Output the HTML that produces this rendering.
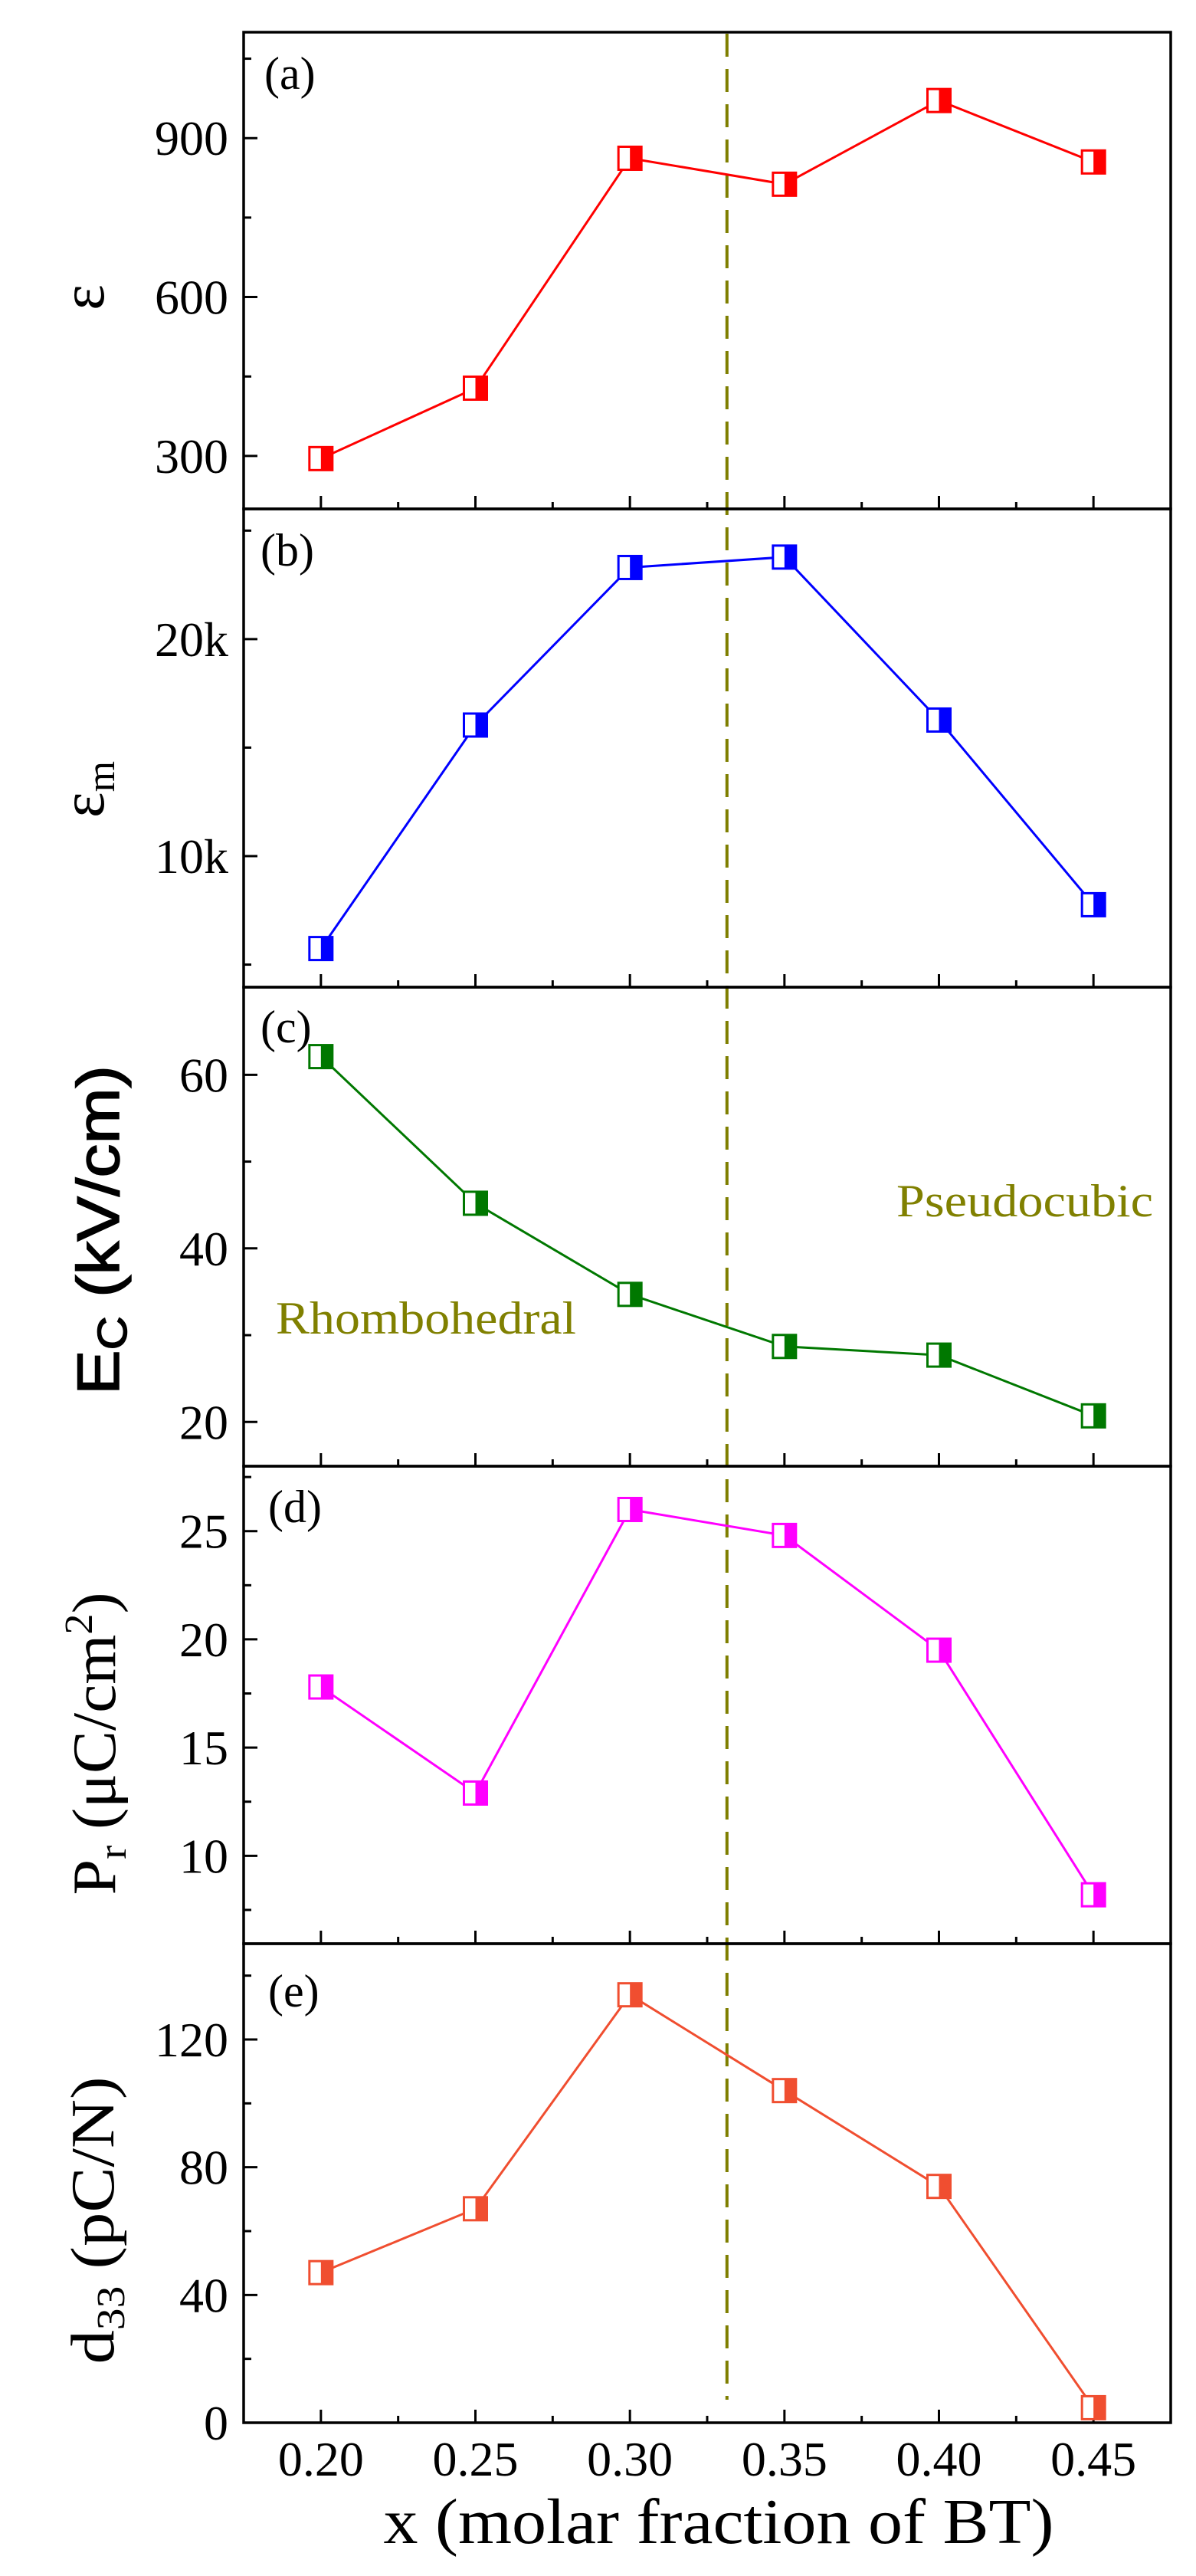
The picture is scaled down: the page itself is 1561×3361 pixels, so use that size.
<!DOCTYPE html>
<html><head><meta charset="utf-8">
<style>
html,body{margin:0;padding:0;background:#fff;}
svg{display:block;}
text{font-family:"Liberation Serif","DejaVu Serif",serif;}
</style></head>
<body>
<svg id="chart" width="1561" height="3361" viewBox="0 0 1561 3361" xmlns="http://www.w3.org/2000/svg"></svg>
<script>
const xCats = [0.20, 0.25, 0.30, 0.35, 0.40, 0.45];
const xTickLabels = ["0.20","0.25","0.30","0.35","0.40","0.45"];
const epsValues = [295, 428, 862, 813, 971, 855];
const epsmValues = [5740, 16040, 23300, 23780, 16270, 7760];
const ecValues = [62.1, 45.2, 34.7, 28.7, 27.7, 20.7];
const prValues = [17.8, 12.9, 26.0, 24.8, 19.5, 8.2];
const d33Values = [47, 67, 134, 104, 74, 4.7];
const epsTicks = [300, 600, 900];
const epsTickLabels = ["300","600","900"];
const epsmTicks = [10000, 20000];
const epsmTickLabels = ["10k","20k"];
const ecTicks = [20, 40, 60];
const ecTickLabels = ["20","40","60"];
const prTicks = [10, 15, 20, 25];
const prTickLabels = ["10","15","20","25"];
const d33Ticks = [0, 40, 80, 120];
const d33TickLabels = ["0","40","80","120"];
const boundaryX = 0.3314;

const NS = "http://www.w3.org/2000/svg";
const svg = document.getElementById("chart");
const L = 318, R = 1528;
const XMIN = 0.175, XMAX = 0.475;
function xs(v){ return L + (v - XMIN) / (XMAX - XMIN) * (R - L); }
function mk(tag, attrs, parent){
  const e = document.createElementNS(NS, tag);
  for (const k in attrs) e.setAttribute(k, attrs[k]);
  (parent || svg).appendChild(e);
  return e;
}

const panels = [
  {key:"eps", top:42, bot:664, min:200, max:1100, vals:epsValues, ticks:epsTicks, labels:epsTickLabels, minor:[450,750,1050], color:"#ff0000", letter:"(a)", ly:116, lx:345},
  {key:"epsm", top:664, bot:1288, min:3960, max:26000, vals:epsmValues, ticks:epsmTicks, labels:epsmTickLabels, minor:[5000,15000,25000], color:"#0000ff", letter:"(b)", ly:738, lx:340},
  {key:"ec", top:1288, bot:1913, min:14.9, max:70.1, vals:ecValues, ticks:ecTicks, labels:ecTickLabels, minor:[30,50], color:"#007800", letter:"(c)", ly:1360, lx:340},
  {key:"pr", top:1913, bot:2536, min:5.94, max:28.0, vals:prValues, ticks:prTicks, labels:prTickLabels, minor:[7.5,12.5,17.5,22.5,27.5], color:"#ff00ff", letter:"(d)", ly:1986, lx:350},
  {key:"d33", top:2536, bot:3161, min:0, max:150, vals:d33Values, ticks:d33Ticks, labels:d33TickLabels, minor:[20,60,100,140], color:"#f04e30", letter:"(e)", ly:2618, lx:350}
];

const db = mk("line", {x1:xs(boundaryX), x2:xs(boundaryX), y1:44, y2:3131, stroke:"#7f7f00", "stroke-width":4, "stroke-dasharray":"30 16"});



panels.forEach(p => {
  const g = mk("g", {});
  
  
  const ys = v => p.bot - (v - p.min) / (p.max - p.min) * (p.bot - p.top);
  const frame = mk("rect", {x:L, y:p.top, width:R-L, height:p.bot-p.top, fill:"none", stroke:"#000", "stroke-width":3.5}, g);
  
  
  p.ticks.forEach((t, i) => {
    const tk = mk("line", {x1:L, x2:L+18, y1:ys(t), y2:ys(t), stroke:"#000", "stroke-width":3}, g);
    
    
    const lb = mk("text", {x:298, y:ys(t)+22, "font-size":64, "text-anchor":"end", fill:"#000"}, g);
    lb.textContent = p.labels[i];
    
    
  });
  p.minor.forEach(t => {
    const tk = mk("line", {x1:L, x2:L+10, y1:ys(t), y2:ys(t), stroke:"#000", "stroke-width":3}, g);
    
    
  });
  xCats.forEach(c => {
    const tk = mk("line", {x1:xs(c), x2:xs(c), y1:p.bot, y2:p.bot-17, stroke:"#000", "stroke-width":3}, g);
    
    
    const m = mk("line", {x1:xs(c+0.025), x2:xs(c+0.025), y1:p.bot, y2:p.bot-9, stroke:"#000", "stroke-width":3}, g);
    
    
  });
  const le = mk("text", {x:p.lx, y:p.ly, "font-size":60, fill:"#000"}, g);
  le.textContent = p.letter;
  
  
  const pts = p.vals.map((v, i) => xs(xCats[i]) + "," + ys(v)).join(" ");
  const pl = mk("polyline", {points:pts, fill:"none", stroke:p.color, "stroke-width":3}, g);
  
  
  p.vals.forEach((v, i) => {
    const cx = xs(xCats[i]), cy = ys(v);
    const mg = mk("g", {}, g);
    
    
    mk("rect", {x:cx-15, y:cy-15, width:30, height:30, fill:"#fff", stroke:p.color, "stroke-width":3}, mg);
    mk("rect", {x:cx, y:cy-15, width:15, height:30, fill:p.color}, mg);
  });
});

xCats.forEach((c, i) => {
  const t = mk("text", {x:xs(c), y:3230, "font-size":64, "text-anchor":"middle", fill:"#000"});
  t.textContent = xTickLabels[i];
  
  
});
</script>
<svg style="position:absolute;left:0;top:0" width="1561" height="3361">
  <text x="938" y="3318" font-size="84" text-anchor="middle" textLength="875" lengthAdjust="spacingAndGlyphs" style="font-family:'Liberation Serif',serif">x (molar fraction of BT)</text>
  <text transform="translate(135,388) rotate(-90)" font-size="80" text-anchor="middle" style="font-family:'Liberation Serif',serif">ε</text>
  <text transform="translate(135,1030) rotate(-90)" font-size="80" text-anchor="middle" style="font-family:'Liberation Serif',serif">ε<tspan font-size="52" dy="14">m</tspan></text>
  <text transform="translate(155,1605) rotate(-90)" font-size="78" text-anchor="middle" textLength="430" lengthAdjust="spacingAndGlyphs" stroke="#000" stroke-width="1.5" style="font-family:'Liberation Sans',sans-serif">E<tspan font-size="54" dy="10">C</tspan><tspan dy="-10"> (kV/cm)</tspan></text>
  <text transform="translate(150,2275) rotate(-90)" font-size="80" text-anchor="middle" textLength="395" lengthAdjust="spacingAndGlyphs" style="font-family:'Liberation Serif',serif">P<tspan font-size="52" dy="14">r</tspan><tspan dy="-14"> (μC/cm</tspan><tspan font-size="52" dy="-30">2</tspan><tspan dy="30">)</tspan></text>
  <text transform="translate(148,2897) rotate(-90)" font-size="80" text-anchor="middle" textLength="375" lengthAdjust="spacingAndGlyphs" style="font-family:'Liberation Serif',serif">d<tspan font-size="52" dy="14">33</tspan><tspan dy="-14"> (pC/N)</tspan></text>
  <text x="360" y="1740" font-size="60" fill="#808000" textLength="392" lengthAdjust="spacingAndGlyphs" style="font-family:'Liberation Serif',serif">Rhombohedral</text>
  <text x="1170" y="1587" font-size="60" fill="#808000" textLength="335" lengthAdjust="spacingAndGlyphs" style="font-family:'Liberation Serif',serif">Pseudocubic</text>
</svg>
</body></html>
